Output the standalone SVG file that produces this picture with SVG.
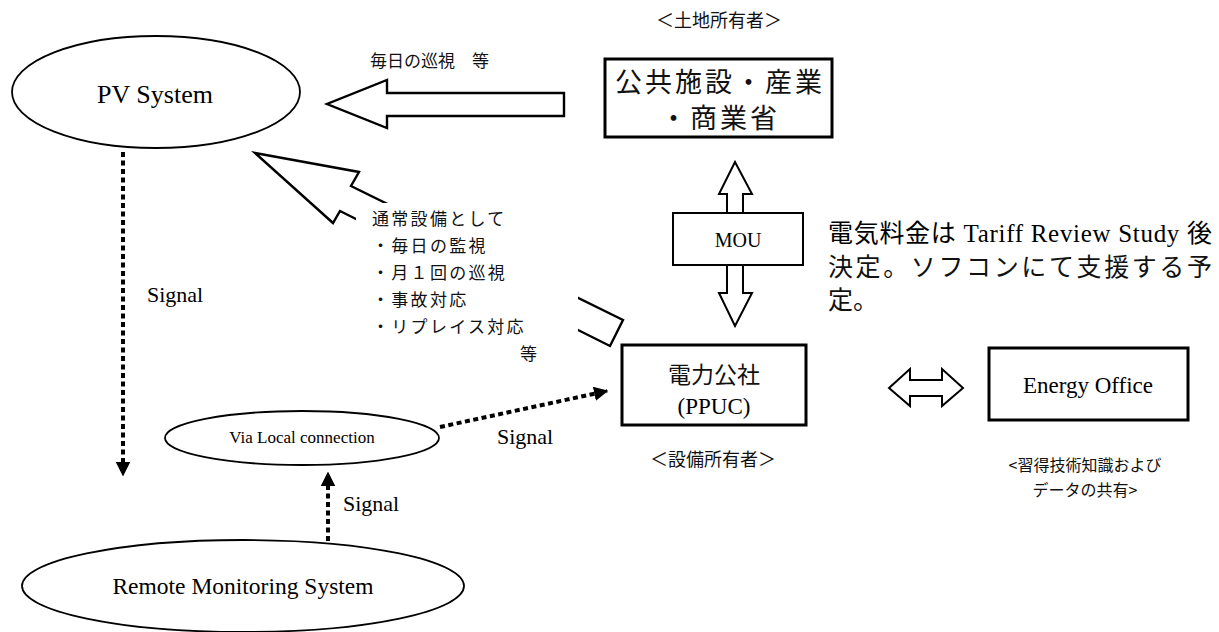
<svg xmlns="http://www.w3.org/2000/svg" width="1219" height="632" viewBox="0 0 1219 632">
<defs>
<style>
.t{font-family:"Liberation Serif","Noto Sans CJK JP",serif;fill:#000}
.j{font-family:"Noto Sans CJK JP","Liberation Serif",sans-serif;fill:#111}
.box{fill:#fff;stroke:#000;stroke-width:3}
.thin{fill:#fff;stroke:#000;stroke-width:2}
.ell{fill:#fff;stroke:#000;stroke-width:1.8}
.dot{fill:none;stroke:#000;stroke-width:4;stroke-dasharray:5 3.5}
.blk{fill:#fff;stroke:#000;stroke-width:2.4;stroke-linejoin:miter}
</style>
<marker id="ah" viewBox="0 0 10 10" refX="9" refY="5" markerWidth="3.6" markerHeight="3.6" orient="auto" markerUnits="strokeWidth">
<path d="M0,0 L10,5 L0,10 Z" fill="#000"/>
</marker>
</defs>
<rect width="1219" height="632" fill="#fff"/>

<g id="connectors">
<polygon class="blk" points="564,93 387,93 387,80 327,104 387,128 387,116 564,116"/>
<polygon class="blk" points="255,153 359,172 351,186 623,320 610,346 340,211 333,223"/>
<rect x="356" y="203" width="222" height="175" fill="#fff"/>
<polygon class="thin" points="735,162 752,194 743,194 743,293 752,293 735,326 719,293 727,293 727,194 719,194"/>
<polygon class="thin" points="889,388 910,369 910,380 942,380 942,369 963,388 942,406 942,396 910,396 910,406"/>
<line class="dot" x1="123" y1="152" x2="123" y2="475" marker-end="url(#ah)"/>
<line class="dot" x1="440" y1="427" x2="607" y2="391" marker-end="url(#ah)"/>
<line class="dot" x1="328" y1="541" x2="328" y2="473" marker-end="url(#ah)"/>
<text class="t" x="147" y="302" font-size="22">Signal</text>
<text class="t" x="497" y="444" font-size="22">Signal</text>
<text class="t" x="343" y="511" font-size="22">Signal</text>
<text class="j" x="370" y="67" font-size="17">毎日の巡視　等</text>
</g>

<g id="pv-system">
<ellipse class="ell" cx="156" cy="92" rx="144" ry="56"/>
<text class="t" x="155" y="103" font-size="26" text-anchor="middle">PV System</text>
</g>

<g id="landowner">
<text class="j" x="719" y="27" font-size="18" text-anchor="middle">＜土地所有者＞</text>
<rect class="box" x="605" y="59" width="227" height="78"/>
<text class="j" x="720" y="92" font-size="27" text-anchor="middle" letter-spacing="3">公共施設・産業</text>
<text class="j" x="720" y="128" font-size="27" text-anchor="middle" letter-spacing="3">・商業省</text>
</g>

<g id="mou">
<rect x="673" y="213" width="130" height="52" fill="#fff" stroke="#000" stroke-width="2"/>
<text class="t" x="738" y="247" font-size="20" text-anchor="middle">MOU</text>
</g>

<g id="tariff-note">
<text class="t" x="828" y="242" font-size="25" textLength="384" lengthAdjust="spacing">電気料金は Tariff Review Study 後</text>
<text class="j" x="828" y="276" font-size="25" textLength="384" lengthAdjust="spacing">決定。ソフコンにて支援する予</text>
<text class="j" x="828" y="309" font-size="25">定。</text>
</g>

<g id="duties">
<text class="j" font-size="17" letter-spacing="2.3">
<tspan x="372" y="225">通常設備として</tspan>
<tspan x="372" y="252">・毎日の監視</tspan>
<tspan x="372" y="279">・月１回の巡視</tspan>
<tspan x="372" y="306">・事故対応</tspan>
<tspan x="372" y="333">・リプレイス対応</tspan>
<tspan x="520" y="360">等</tspan>
</text>
</g>

<g id="ppuc">
<rect class="box" x="622" y="345" width="184" height="80"/>
<text class="j" x="714" y="383" font-size="23" text-anchor="middle">電力公社</text>
<text class="t" x="714" y="414" font-size="23" text-anchor="middle">(PPUC)</text>
<text class="j" x="713" y="466" font-size="18" text-anchor="middle">＜設備所有者＞</text>
</g>

<g id="energy-office">
<rect class="box" x="989" y="348" width="199" height="72"/>
<text class="t" x="1088" y="393" font-size="23" text-anchor="middle">Energy Office</text>
<text class="j" x="1085" y="471" font-size="16" text-anchor="middle">&lt;習得技術知識および</text>
<text class="j" x="1085" y="496" font-size="16" text-anchor="middle">データの共有&gt;</text>
</g>

<g id="via-local">
<ellipse class="ell" cx="302" cy="438" rx="137" ry="27"/>
<text class="t" x="302" y="443" font-size="17" text-anchor="middle">Via Local connection</text>
</g>

<g id="remote-monitoring">
<ellipse class="ell" cx="243" cy="586" rx="221" ry="46"/>
<text class="t" x="243" y="594" font-size="23.5" text-anchor="middle">Remote Monitoring System</text>
</g>
</svg>
